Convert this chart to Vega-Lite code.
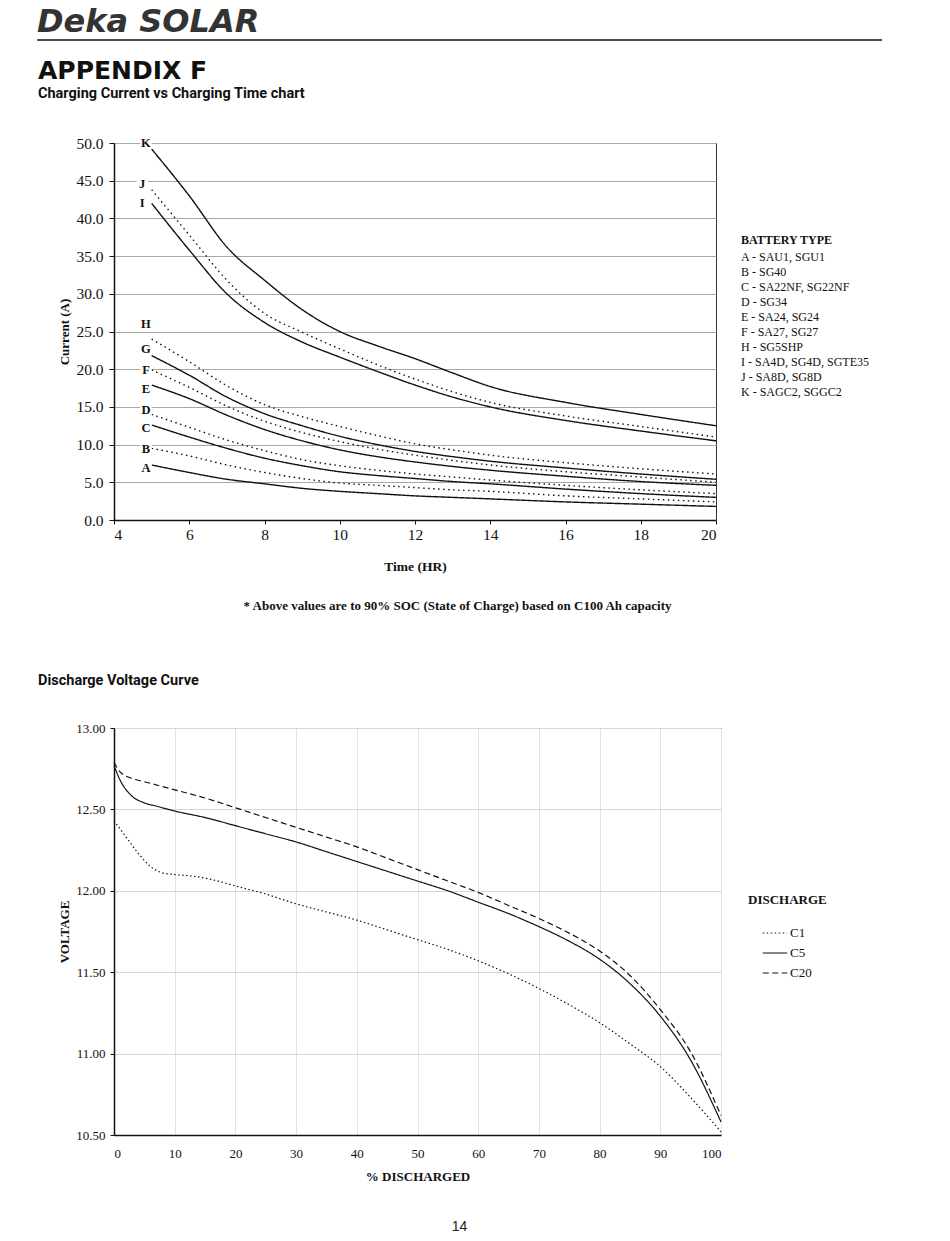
{
  "$schema": "https://vega.github.io/schema/vega-lite/v6.json",
  "background": "white",
  "padding": {"left": 36, "top": 6, "right": 20, "bottom": 5},
  "config": {"font": "Liberation Serif", "view": {"stroke": "#333"}},
  "title": {"text": "14", "orient": "bottom", "anchor": "middle", "font": "Liberation Sans", "fontSize": 14, "fontWeight": "normal", "color": "#222", "offset": 36},
  "columns": 1,
  "align": "none",
  "spacing": 59,
  "resolve": {"scale": {"color": "independent", "strokeDash": "independent"}, "legend": {"color": "independent", "strokeDash": "independent"}},
  "concat": [
    {
      "columns": 1,
      "align": "none",
      "spacing": 17,
      "resolve": {"scale": {"color": "independent", "strokeDash": "independent"}, "legend": {"color": "independent", "strokeDash": "independent"}},
      "concat": [
        {
          "width": 768,
          "height": 2,
          "view": {"stroke": null},
          "title": {"text": "Deka SOLAR", "anchor": "start", "frame": "group", "dx": -77, "font": "DejaVu Sans", "fontSize": 32, "fontStyle": "italic", "fontWeight": "bold", "color": "#333", "offset": 0},
          "data": {"values": [{"x0": -0.1, "x1": 1, "y0": 1}]},
          "mark": {"type": "rule", "color": "#111", "strokeWidth": 1.5, "clip": false},
          "encoding": {
            "x": {"field": "x0", "type": "quantitative", "scale": {"domain": [0, 1]}, "axis": null},
            "x2": {"field": "x1"},
            "y": {"field": "y0", "type": "quantitative", "scale": {"domain": [0, 2]}, "axis": null}
          }
        },
        {
          "width": 602,
          "height": 377,
          "view": {"stroke": "#333", "strokeWidth": 1},
          "title": {"text": "APPENDIX F", "subtitle": "Charging Current vs Charging Time chart", "anchor": "start", "frame": "bounds", "dx": -20, "font": "DejaVu Sans", "fontSize": 25, "fontWeight": "bold", "color": "#111", "subtitleFont": "Roboto", "subtitleFontSize": 14.5, "subtitleFontWeight": "bold", "subtitleColor": "#111", "subtitlePadding": 3, "offset": 36},
          "resolve": {"axis": {"x": "independent"}},
          "layer": [
            {
              "data": {"values": [
                {"b":"K","s":"solid","t":5,"v":49.2},{"b":"K","s":"solid","t":6,"v":43.0},{"b":"K","s":"solid","t":7,"v":36.2},{"b":"K","s":"solid","t":8,"v":31.8},{"b":"K","s":"solid","t":9,"v":27.9},{"b":"K","s":"solid","t":10,"v":25.0},{"b":"K","s":"solid","t":11,"v":23.1},{"b":"K","s":"solid","t":12,"v":21.4},{"b":"K","s":"solid","t":13,"v":19.5},{"b":"K","s":"solid","t":14,"v":17.7},{"b":"K","s":"solid","t":16,"v":15.6},{"b":"K","s":"solid","t":18,"v":14.0},{"b":"K","s":"solid","t":20,"v":12.5},
                {"b":"J","s":"dotted","t":5,"v":43.8},{"b":"J","s":"dotted","t":6,"v":37.8},{"b":"J","s":"dotted","t":7,"v":31.8},{"b":"J","s":"dotted","t":8,"v":27.4},{"b":"J","s":"dotted","t":9,"v":24.9},{"b":"J","s":"dotted","t":10,"v":22.7},{"b":"J","s":"dotted","t":11,"v":20.6},{"b":"J","s":"dotted","t":12,"v":18.7},{"b":"J","s":"dotted","t":13,"v":17.0},{"b":"J","s":"dotted","t":14,"v":15.6},{"b":"J","s":"dotted","t":16,"v":13.8},{"b":"J","s":"dotted","t":18,"v":12.4},{"b":"J","s":"dotted","t":20,"v":11.0},
                {"b":"I","s":"solid","t":5,"v":42.0},{"b":"I","s":"solid","t":6,"v":35.8},{"b":"I","s":"solid","t":7,"v":30.0},{"b":"I","s":"solid","t":8,"v":26.2},{"b":"I","s":"solid","t":9,"v":23.6},{"b":"I","s":"solid","t":10,"v":21.6},{"b":"I","s":"solid","t":11,"v":19.7},{"b":"I","s":"solid","t":12,"v":17.9},{"b":"I","s":"solid","t":13,"v":16.3},{"b":"I","s":"solid","t":14,"v":15.0},{"b":"I","s":"solid","t":16,"v":13.2},{"b":"I","s":"solid","t":18,"v":11.8},{"b":"I","s":"solid","t":20,"v":10.5},
                {"b":"H","s":"dotted","t":5,"v":24.0},{"b":"H","s":"dotted","t":6,"v":21.0},{"b":"H","s":"dotted","t":7,"v":17.8},{"b":"H","s":"dotted","t":8,"v":15.3},{"b":"H","s":"dotted","t":9,"v":13.7},{"b":"H","s":"dotted","t":10,"v":12.4},{"b":"H","s":"dotted","t":11,"v":11.2},{"b":"H","s":"dotted","t":12,"v":10.1},{"b":"H","s":"dotted","t":13,"v":9.3},{"b":"H","s":"dotted","t":14,"v":8.6},{"b":"H","s":"dotted","t":16,"v":7.6},{"b":"H","s":"dotted","t":18,"v":6.8},{"b":"H","s":"dotted","t":20,"v":6.1},
                {"b":"G","s":"solid","t":5,"v":21.8},{"b":"G","s":"solid","t":6,"v":19.2},{"b":"G","s":"solid","t":7,"v":16.3},{"b":"G","s":"solid","t":8,"v":14.1},{"b":"G","s":"solid","t":9,"v":12.5},{"b":"G","s":"solid","t":10,"v":11.1},{"b":"G","s":"solid","t":11,"v":10.0},{"b":"G","s":"solid","t":12,"v":9.1},{"b":"G","s":"solid","t":13,"v":8.4},{"b":"G","s":"solid","t":14,"v":7.8},{"b":"G","s":"solid","t":16,"v":6.9},{"b":"G","s":"solid","t":18,"v":6.1},{"b":"G","s":"solid","t":20,"v":5.4},
                {"b":"F","s":"dotted","t":5,"v":19.9},{"b":"F","s":"dotted","t":6,"v":17.6},{"b":"F","s":"dotted","t":7,"v":15.1},{"b":"F","s":"dotted","t":8,"v":13.1},{"b":"F","s":"dotted","t":9,"v":11.6},{"b":"F","s":"dotted","t":10,"v":10.4},{"b":"F","s":"dotted","t":11,"v":9.4},{"b":"F","s":"dotted","t":12,"v":8.6},{"b":"F","s":"dotted","t":13,"v":7.9},{"b":"F","s":"dotted","t":14,"v":7.3},{"b":"F","s":"dotted","t":16,"v":6.4},{"b":"F","s":"dotted","t":18,"v":5.7},{"b":"F","s":"dotted","t":20,"v":5.0},
                {"b":"E","s":"solid","t":5,"v":17.9},{"b":"E","s":"solid","t":6,"v":16.1},{"b":"E","s":"solid","t":7,"v":13.9},{"b":"E","s":"solid","t":8,"v":12.0},{"b":"E","s":"solid","t":9,"v":10.5},{"b":"E","s":"solid","t":10,"v":9.3},{"b":"E","s":"solid","t":11,"v":8.4},{"b":"E","s":"solid","t":12,"v":7.7},{"b":"E","s":"solid","t":13,"v":7.1},{"b":"E","s":"solid","t":14,"v":6.6},{"b":"E","s":"solid","t":16,"v":5.8},{"b":"E","s":"solid","t":18,"v":5.1},{"b":"E","s":"solid","t":20,"v":4.6},
                {"b":"D","s":"dotted","t":5,"v":14.0},{"b":"D","s":"dotted","t":6,"v":12.3},{"b":"D","s":"dotted","t":7,"v":10.6},{"b":"D","s":"dotted","t":8,"v":9.2},{"b":"D","s":"dotted","t":9,"v":8.0},{"b":"D","s":"dotted","t":10,"v":7.2},{"b":"D","s":"dotted","t":11,"v":6.6},{"b":"D","s":"dotted","t":12,"v":6.1},{"b":"D","s":"dotted","t":13,"v":5.7},{"b":"D","s":"dotted","t":14,"v":5.3},{"b":"D","s":"dotted","t":16,"v":4.6},{"b":"D","s":"dotted","t":18,"v":4.0},{"b":"D","s":"dotted","t":20,"v":3.5},
                {"b":"C","s":"solid","t":5,"v":12.6},{"b":"C","s":"solid","t":6,"v":11.0},{"b":"C","s":"solid","t":7,"v":9.5},{"b":"C","s":"solid","t":8,"v":8.2},{"b":"C","s":"solid","t":9,"v":7.2},{"b":"C","s":"solid","t":10,"v":6.4},{"b":"C","s":"solid","t":11,"v":5.9},{"b":"C","s":"solid","t":12,"v":5.5},{"b":"C","s":"solid","t":13,"v":5.1},{"b":"C","s":"solid","t":14,"v":4.8},{"b":"C","s":"solid","t":16,"v":4.1},{"b":"C","s":"solid","t":18,"v":3.5},{"b":"C","s":"solid","t":20,"v":3.0},
                {"b":"B","s":"dotted","t":5,"v":9.5},{"b":"B","s":"dotted","t":6,"v":8.5},{"b":"B","s":"dotted","t":7,"v":7.3},{"b":"B","s":"dotted","t":8,"v":6.3},{"b":"B","s":"dotted","t":9,"v":5.5},{"b":"B","s":"dotted","t":10,"v":4.9},{"b":"B","s":"dotted","t":11,"v":4.6},{"b":"B","s":"dotted","t":12,"v":4.3},{"b":"B","s":"dotted","t":13,"v":4.0},{"b":"B","s":"dotted","t":14,"v":3.8},{"b":"B","s":"dotted","t":16,"v":3.2},{"b":"B","s":"dotted","t":18,"v":2.8},{"b":"B","s":"dotted","t":20,"v":2.4},
                {"b":"A","s":"solid","t":5,"v":7.3},{"b":"A","s":"solid","t":6,"v":6.3},{"b":"A","s":"solid","t":7,"v":5.4},{"b":"A","s":"solid","t":8,"v":4.8},{"b":"A","s":"solid","t":9,"v":4.2},{"b":"A","s":"solid","t":10,"v":3.8},{"b":"A","s":"solid","t":11,"v":3.5},{"b":"A","s":"solid","t":12,"v":3.2},{"b":"A","s":"solid","t":13,"v":3.0},{"b":"A","s":"solid","t":14,"v":2.8},{"b":"A","s":"solid","t":16,"v":2.4},{"b":"A","s":"solid","t":18,"v":2.1},{"b":"A","s":"solid","t":20,"v":1.8}
              ]},
              "mark": {"type": "line", "interpolate": "monotone", "strokeWidth": 1.4},
              "encoding": {
                "x": {"field": "t", "type": "quantitative", "scale": {"domain": [4, 20], "nice": false},
                  "axis": {"orient": "bottom", "title": "Time (HR)", "values": [4, 6, 8, 10, 12, 14, 16, 18, 20], "format": "d", "grid": false, "tickSize": 4, "tickColor": "#111", "labelPadding": 3, "labelFont": "Liberation Serif", "labelFontSize": 15.5, "labelColor": "#111", "titleFont": "Liberation Serif", "titleFontSize": 13.5, "titleFontWeight": "bold", "titleColor": "#111", "titlePadding": 17, "domainColor": "#111", "domainWidth": 1.5}},
                "y": {"field": "v", "type": "quantitative", "scale": {"domain": [0, 50], "nice": false},
                  "axis": {"title": "Current (A)", "values": [0, 5, 10, 15, 20, 25, 30, 35, 40, 45, 50], "format": ".1f", "grid": true, "gridColor": "#a8a8a8", "gridWidth": 1, "tickSize": 5, "tickColor": "#111", "labelPadding": 6, "labelFont": "Liberation Serif", "labelFontSize": 15.5, "labelColor": "#111", "titleFont": "Liberation Serif", "titleFontSize": 13, "titleFontWeight": "bold", "titleColor": "#111", "titlePadding": 5, "minExtent": 38, "maxExtent": 38, "domainColor": "#111", "domainWidth": 1.5}},
                "color": {"field": "b", "type": "nominal",
                  "scale": {"domain": ["A", "B", "C", "D", "E", "F", "G", "H", "I", "J", "K"], "range": ["#111", "#111", "#111", "#111", "#111", "#111", "#111", "#111", "#111", "#111", "#111"]},
                  "legend": {"title": "BATTERY TYPE", "values": ["A", "B", "C", "D", "E", "F", "H", "I", "J", "K"],
                    "labelExpr": "datum.label == 'A' ? 'A - SAU1, SGU1' : datum.label == 'B' ? 'B - SG40' : datum.label == 'C' ? 'C - SA22NF, SG22NF' : datum.label == 'D' ? 'D - SG34' : datum.label == 'E' ? 'E - SA24, SG24' : datum.label == 'F' ? 'F - SA27, SG27' : datum.label == 'H' ? 'H - SG5SHP' : datum.label == 'I' ? 'I - SA4D, SG4D, SGTE35' : datum.label == 'J' ? 'J - SA8D, SG8D' : 'K - SAGC2, SGGC2'",
                    "orient": "none", "legendX": 627, "legendY": 92, "padding": 0,
                    "titleFont": "Liberation Serif", "titleFontSize": 12, "titleFontWeight": "bold", "titleColor": "#111", "titlePadding": 4,
                    "labelFont": "Liberation Serif", "labelFontSize": 12, "labelColor": "#111", "labelLimit": 300, "labelOffset": -12,
                    "symbolSize": 0, "symbolStrokeWidth": 0, "symbolOpacity": 0, "rowPadding": 3}},
                "strokeDash": {"field": "s", "type": "nominal", "scale": {"domain": ["solid", "dotted"], "range": [[1, 0], [1.5, 3.5]]}, "legend": null}
              }
            },
            {
              "data": {"values": [
                {"b":"K","t":4.85,"v":50.0},{"b":"J","t":4.75,"v":44.6},{"b":"I","t":4.75,"v":42.1},{"b":"H","t":4.85,"v":26.0},{"b":"G","t":4.85,"v":22.7},{"b":"F","t":4.85,"v":19.9},{"b":"E","t":4.85,"v":17.4},{"b":"D","t":4.85,"v":14.6},{"b":"C","t":4.85,"v":12.2},{"b":"B","t":4.85,"v":9.4},{"b":"A","t":4.85,"v":6.9}
              ]},
              "mark": {"type": "point", "shape": "square", "filled": true, "color": "white", "opacity": 1, "size": 130},
              "encoding": {
                "x": {"field": "t", "type": "quantitative", "axis": null},
                "y": {"field": "v", "type": "quantitative",
                  "axis": {"title": "Current (A)", "values": [0, 5, 10, 15, 20, 25, 30, 35, 40, 45, 50], "format": ".1f", "grid": true, "gridColor": "#a8a8a8", "gridWidth": 1, "tickSize": 5, "tickColor": "#111", "labelPadding": 6, "labelFont": "Liberation Serif", "labelFontSize": 15.5, "labelColor": "#111", "titleFont": "Liberation Serif", "titleFontSize": 13, "titleFontWeight": "bold", "titleColor": "#111", "titlePadding": 5, "minExtent": 38, "maxExtent": 38, "domainColor": "#111", "domainWidth": 1.5}}
              }
            },
            {
              "data": {"values": [
                {"b":"K","t":4.85,"v":50.0},{"b":"J","t":4.75,"v":44.6},{"b":"I","t":4.75,"v":42.1},{"b":"H","t":4.85,"v":26.0},{"b":"G","t":4.85,"v":22.7},{"b":"F","t":4.85,"v":19.9},{"b":"E","t":4.85,"v":17.4},{"b":"D","t":4.85,"v":14.6},{"b":"C","t":4.85,"v":12.2},{"b":"B","t":4.85,"v":9.4},{"b":"A","t":4.85,"v":6.9}
              ]},
              "mark": {"type": "text", "font": "Liberation Serif", "fontSize": 12.5, "fontWeight": "bold", "color": "#111"},
              "encoding": {
                "x": {"field": "t", "type": "quantitative",
                  "axis": {"orient": "bottom", "title": "* Above values are to 90% SOC (State of Charge) based on C100 Ah capacity", "labels": false, "ticks": false, "domain": false, "grid": false, "titleFont": "Liberation Serif", "titleFontSize": 13, "titleFontWeight": "bold", "titleColor": "#111", "titlePadding": 79, "titleX": 343}},
                "y": {"field": "v", "type": "quantitative",
                  "axis": {"title": "Current (A)", "values": [0, 5, 10, 15, 20, 25, 30, 35, 40, 45, 50], "format": ".1f", "grid": true, "gridColor": "#a8a8a8", "gridWidth": 1, "tickSize": 5, "tickColor": "#111", "labelPadding": 6, "labelFont": "Liberation Serif", "labelFontSize": 15.5, "labelColor": "#111", "titleFont": "Liberation Serif", "titleFontSize": 13, "titleFontWeight": "bold", "titleColor": "#111", "titlePadding": 5, "minExtent": 38, "maxExtent": 38, "domainColor": "#111", "domainWidth": 1.5}},
                "text": {"field": "b"}
              }
            }
          ]
        }
      ]
    },
    {
      "width": 607,
      "height": 407,
      "view": {"stroke": "#222", "strokeWidth": 1},
      "title": {"text": "Discharge Voltage Curve", "anchor": "start", "frame": "bounds", "dx": -20, "font": "Roboto", "fontSize": 14.5, "fontWeight": "bold", "color": "#111", "offset": 34},
      "data": {"values": [
        {"s":"C1","p":0,"v":12.43},{"s":"C1","p":2,"v":12.33},{"s":"C1","p":4,"v":12.23},{"s":"C1","p":6,"v":12.15},{"s":"C1","p":8,"v":12.11},{"s":"C1","p":10,"v":12.10},{"s":"C1","p":13,"v":12.09},{"s":"C1","p":16,"v":12.07},{"s":"C1","p":20,"v":12.03},{"s":"C1","p":25,"v":11.98},{"s":"C1","p":30,"v":11.92},{"s":"C1","p":35,"v":11.87},{"s":"C1","p":40,"v":11.82},{"s":"C1","p":45,"v":11.76},{"s":"C1","p":50,"v":11.70},{"s":"C1","p":55,"v":11.64},{"s":"C1","p":60,"v":11.57},{"s":"C1","p":65,"v":11.49},{"s":"C1","p":70,"v":11.40},{"s":"C1","p":75,"v":11.30},{"s":"C1","p":80,"v":11.19},{"s":"C1","p":85,"v":11.06},{"s":"C1","p":90,"v":10.92},{"s":"C1","p":95,"v":10.73},{"s":"C1","p":100,"v":10.52},
        {"s":"C5","p":0,"v":12.77},{"s":"C5","p":1,"v":12.68},{"s":"C5","p":2,"v":12.62},{"s":"C5","p":3,"v":12.58},{"s":"C5","p":5,"v":12.54},{"s":"C5","p":7,"v":12.52},{"s":"C5","p":10,"v":12.49},{"s":"C5","p":15,"v":12.45},{"s":"C5","p":20,"v":12.40},{"s":"C5","p":25,"v":12.35},{"s":"C5","p":30,"v":12.30},{"s":"C5","p":35,"v":12.24},{"s":"C5","p":40,"v":12.18},{"s":"C5","p":45,"v":12.12},{"s":"C5","p":50,"v":12.06},{"s":"C5","p":55,"v":12.00},{"s":"C5","p":60,"v":11.93},{"s":"C5","p":65,"v":11.86},{"s":"C5","p":70,"v":11.78},{"s":"C5","p":75,"v":11.69},{"s":"C5","p":80,"v":11.58},{"s":"C5","p":85,"v":11.43},{"s":"C5","p":90,"v":11.23},{"s":"C5","p":95,"v":10.96},{"s":"C5","p":100,"v":10.58},
        {"s":"C20","p":0,"v":12.79},{"s":"C20","p":1,"v":12.73},{"s":"C20","p":3,"v":12.69},{"s":"C20","p":5,"v":12.67},{"s":"C20","p":10,"v":12.62},{"s":"C20","p":15,"v":12.57},{"s":"C20","p":20,"v":12.51},{"s":"C20","p":25,"v":12.45},{"s":"C20","p":30,"v":12.39},{"s":"C20","p":35,"v":12.33},{"s":"C20","p":40,"v":12.27},{"s":"C20","p":45,"v":12.20},{"s":"C20","p":50,"v":12.13},{"s":"C20","p":55,"v":12.06},{"s":"C20","p":60,"v":11.99},{"s":"C20","p":65,"v":11.91},{"s":"C20","p":70,"v":11.83},{"s":"C20","p":75,"v":11.74},{"s":"C20","p":80,"v":11.63},{"s":"C20","p":85,"v":11.48},{"s":"C20","p":90,"v":11.27},{"s":"C20","p":95,"v":11.01},{"s":"C20","p":100,"v":10.62}
      ]},
      "mark": {"type": "line", "interpolate": "monotone", "color": "#111", "strokeWidth": 1.2},
      "encoding": {
        "x": {"field": "p", "type": "quantitative", "scale": {"domain": [0, 100], "nice": false},
          "axis": {"title": "% DISCHARGED", "values": [0, 10, 20, 30, 40, 50, 60, 70, 80, 90, 100], "format": "d", "grid": true, "gridColor": "#e2e2e2", "tickSize": 0, "labelPadding": 12, "labelFont": "Liberation Serif", "labelFontSize": 13, "labelColor": "#111", "titleFont": "Liberation Serif", "titleFontSize": 13, "titleFontWeight": "bold", "titleColor": "#111", "titlePadding": 10, "domainColor": "#111", "domainWidth": 1.5}},
        "y": {"field": "v", "type": "quantitative", "scale": {"domain": [10.5, 13], "nice": false, "zero": false},
          "axis": {"title": "VOLTAGE", "values": [10.5, 11, 11.5, 12, 12.5, 13], "format": ".2f", "grid": true, "gridColor": "#d6d6d6", "tickSize": 4, "tickColor": "#111", "labelPadding": 5, "labelFont": "Liberation Serif", "labelFontSize": 13, "labelColor": "#111", "titleFont": "Liberation Serif", "titleFontSize": 13, "titleFontWeight": "bold", "titleColor": "#111", "titlePadding": 5, "minExtent": 38, "maxExtent": 38, "domainColor": "#111", "domainWidth": 1.5}},
        "strokeDash": {"field": "s", "type": "nominal", "scale": {"domain": ["C1", "C5", "C20"], "range": [[1.5, 2.5], [1, 0], [6, 3.5]]},
          "legend": {"title": "DISCHARGE", "orient": "none", "legendX": 634, "legendY": 166, "padding": 0,
            "titleFont": "Liberation Serif", "titleFontSize": 13, "titleFontWeight": "bold", "titleColor": "#111", "titlePadding": 13,
            "labelFont": "Liberation Serif", "labelFontSize": 13, "labelColor": "#111", "labelOffset": 2,
            "symbolType": "stroke", "symbolSize": 600, "symbolStrokeWidth": 1.2, "symbolStrokeColor": "#111", "symbolOffset": 14, "rowPadding": -6}}
      }
    }
  ]
}
